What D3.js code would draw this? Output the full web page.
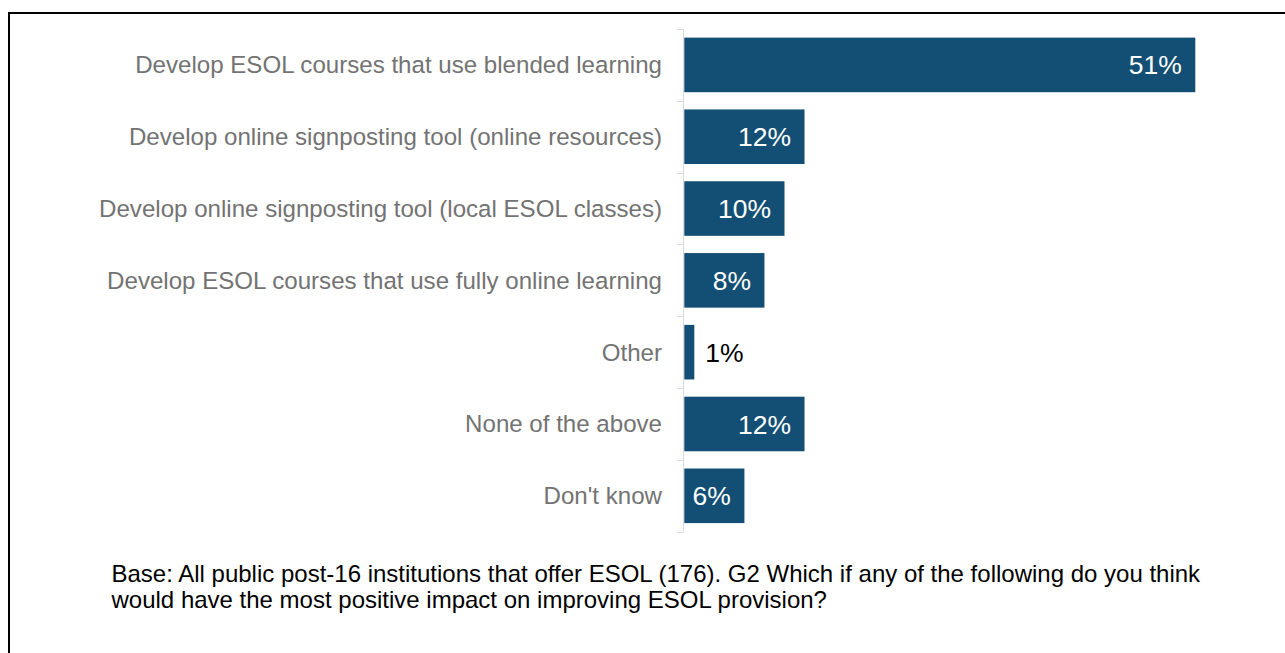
<!DOCTYPE html>
<html>
<head>
<meta charset="utf-8">
<script src="https://cdn.jsdelivr.net/npm/d3@7"></script>
<style>
  html, body { margin: 0; padding: 0; background: #ffffff; }
  svg { display: block; font-family: "Liberation Sans", Arial, Helvetica, sans-serif; }
</style>
</head>
<body>
<svg id="chart" width="1285" height="653"></svg>
<script>
// Survey answers, top to bottom
const categories = [
  "Develop ESOL courses that use blended learning",
  "Develop online signposting tool (online resources)",
  "Develop online signposting tool (local ESOL classes)",
  "Develop ESOL courses that use fully online learning",
  "Other",
  "None of the above",
  "Don't know"
];
// Share of institutions choosing each answer (%)
const values = [51, 12, 10, 8, 1, 12, 6];
const valueLabels = ["51%", "12%", "10%", "8%", "1%", "12%", "6%"];

const footnoteLines = [
  "Base: All public post-16 institutions that offer ESOL (176). G2 Which if any of the following do you think",
  "would have the most positive impact on improving ESOL provision?"
];

const svg = d3.select("#chart");

// Frame around the figure (top and left edges visible)
svg.append("line").attr("x1", 9).attr("x2", 1285).attr("y1", 13).attr("y2", 13)
  .attr("stroke", "#000").attr("stroke-width", 2);
svg.append("line").attr("x1", 9).attr("x2", 9).attr("y1", 12).attr("y2", 653)
  .attr("stroke", "#000").attr("stroke-width", 2);

const y = d3.scaleBand()
  .domain(categories)
  .range([29, 531.7])
  .paddingInner(0.24)
  .paddingOuter(0.12);

const x = d3.scaleLinear().domain([0, 51]).range([684.3, 1195.3]);

// Category axis: vertical line with ticks between bands
const step = y.step();
const boundaries = categories.map(c => y(c) - step * y.paddingInner() / 2);
boundaries.push(y.range()[1]);

const axis = svg.append("g");
axis.append("line")
  .attr("x1", 683.5).attr("x2", 683.5)
  .attr("y1", y.range()[0]).attr("y2", y.range()[1])
  .attr("stroke", "#d9d9d9").attr("stroke-width", 1);
axis.selectAll("line.tick").data(boundaries).join("line")
  .attr("class", "tick")
  .attr("x1", 677).attr("x2", 683.5)
  .attr("y1", d => Math.round(d) + 0.5).attr("y2", d => Math.round(d) + 0.5)
  .attr("stroke", "#d9d9d9").attr("stroke-width", 1);

axis.selectAll("text.cat").data(categories).join("text")
  .attr("class", "cat")
  .attr("x", 662)
  .attr("y", d => y(d) + y.bandwidth() / 2)
  .attr("dy", "0.35em")
  .attr("text-anchor", "end")
  .attr("font-size", "24.1px")
  .attr("fill", "#737373")
  .text(d => d);

// Bars
const rows = categories.map((c, i) => ({ cat: c, value: values[i], label: valueLabels[i] }));

svg.append("g").selectAll("rect").data(rows).join("rect")
  .attr("x", x(0))
  .attr("y", d => y(d.cat))
  .attr("width", d => x(d.value) - x(0))
  .attr("height", y.bandwidth())
  .attr("fill", "#134f74");

// Value labels: inside the bar end, or just outside for very short bars
svg.append("g").selectAll("text").data(rows).join("text")
  .attr("x", d => d.value < 3 ? x(d.value) + 11 : x(d.value) - 13.5)
  .attr("y", d => y(d.cat) + y.bandwidth() / 2)
  .attr("dy", "0.36em")
  .attr("text-anchor", d => d.value < 3 ? "start" : "end")
  .attr("font-size", "26.5px")
  .attr("fill", d => d.value < 3 ? "#000000" : "#ffffff")
  .text(d => d.label);

// Base / question note
svg.append("g").selectAll("text").data(footnoteLines).join("text")
  .attr("x", 111.5)
  .attr("y", (d, i) => 581.5 + i * 26.5)
  .attr("font-size", "24px")
  .attr("fill", "#000000")
  .text(d => d);
</script>
</body>
</html>
